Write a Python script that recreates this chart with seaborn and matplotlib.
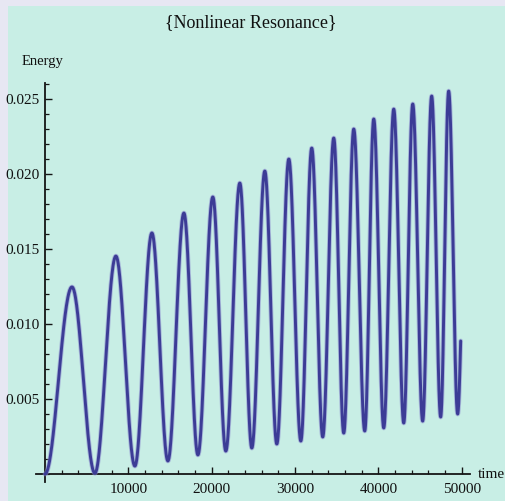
import numpy as np
import pandas as pd
import matplotlib
matplotlib.use("Agg")
import matplotlib.pyplot as plt
import matplotlib.ticker as mticker
import matplotlib.patheffects as pe
from matplotlib.patches import Rectangle
import seaborn as sns

# Turning points of the energy curve (time, energy)
start_time = [0]
start_energy = [0.0]
peak_times = [3240, 8510, 12830, 16670, 20140, 23380, 26380, 29260,
              32010, 34650, 37050, 39450, 41850, 44130, 46400, 48440]
peak_energy = [0.01247, 0.01453, 0.01607, 0.01740, 0.01847, 0.01940, 0.02020, 0.02100,
               0.02173, 0.02240, 0.02300, 0.02367, 0.02433, 0.02467, 0.02520, 0.02553]
trough_times = [5990, 10790, 14750, 18350, 21700, 24820, 27820, 30700,
                33330, 35850, 38370, 40650, 43050, 45320, 47480, 49520]
trough_energy = [0.00005, 0.00053, 0.00087, 0.00127, 0.00153, 0.00173, 0.00200, 0.00220,
                 0.00247, 0.00273, 0.00287, 0.00307, 0.00340, 0.00353, 0.00380, 0.00400]
end_time = [49880]
end_energy = [0.00887]

x_major = [10000, 20000, 30000, 40000, 50000]
x_labels = ["10000", "20000", "30000", "40000", "50000"]
y_major = [0.005, 0.010, 0.015, 0.020, 0.025]
y_labels = ["0.005", "0.010", "0.015", "0.020", "0.025"]

# Alternate the turning points and join them with smooth half-wave arcs
tp_t = list(start_time)
tp_e = list(start_energy)
for pt, pv, tt, tv in zip(peak_times, peak_energy, trough_times, trough_energy):
    tp_t += [pt, tt]
    tp_e += [pv, tv]

ts, es = [], []
for i in range(len(tp_t) - 1):
    s = np.linspace(0, 1, 60)
    ts.append(tp_t[i] + (tp_t[i + 1] - tp_t[i]) * s)
    es.append(tp_e[i] + (tp_e[i + 1] - tp_e[i]) * (1 - np.cos(np.pi * s)) / 2)
# last rising stretch, cut off before the next crest
s = np.linspace(0, 1, 30)
ts.append(tp_t[-1] + (end_time[0] - tp_t[-1]) * s)
es.append(tp_e[-1] + (end_energy[0] - tp_e[-1]) * (1 - np.cos(np.pi / 2 * s)))
df = pd.DataFrame({"time": np.concatenate(ts), "Energy": np.concatenate(es)})

sns.set_theme(style="ticks")
plt.rcParams["font.family"] = ["Liberation Serif", "DejaVu Serif"]

W, H = 506, 501
fig = plt.figure(figsize=(W / 100, H / 100), dpi=100)
fig.patch.set_facecolor("#E7E7F3")
fig.add_artist(Rectangle((8 / W, 0), 1 - 8 / W, (H - 6) / H, transform=fig.transFigure,
                         facecolor="#C8EEE5", edgecolor="none", zorder=0))

left_px, right_px, top_px, bottom_px = 35.8, 470, 83, 481.5
ax = fig.add_axes([left_px / W, (H - bottom_px) / H,
                   (right_px - left_px) / W, (bottom_px - top_px) / H])
ax.patch.set_visible(False)

line_color = "#3C3C96"
sns.lineplot(data=df, x="time", y="Energy", ax=ax, color=line_color, linewidth=2.1,
             estimator=None, sort=False, legend=False, zorder=3,
             path_effects=[pe.Stroke(linewidth=3.4, foreground="#8C8CCF", alpha=0.55),
                           pe.Normal()])

ax.set_xlim(-1100, 51000)
ax.set_ylim(-0.0005, 0.02607)
ax.set_xlabel("")
ax.set_ylabel("")

for side in ("top", "right"):
    ax.spines[side].set_visible(False)
for side in ("left", "bottom"):
    ax.spines[side].set_position(("data", 0))
    ax.spines[side].set_color("#151515")
    ax.spines[side].set_linewidth(1.3)
    ax.spines[side].set_zorder(2)

ax.xaxis.set_major_locator(mticker.FixedLocator(x_major))
ax.xaxis.set_major_formatter(mticker.FixedFormatter(x_labels))
ax.xaxis.set_minor_locator(mticker.MultipleLocator(2000))
ax.yaxis.set_major_locator(mticker.FixedLocator(y_major))
ax.yaxis.set_major_formatter(mticker.FixedFormatter(y_labels))
ax.yaxis.set_minor_locator(mticker.MultipleLocator(0.001))

ax.tick_params(axis="both", which="major", direction="in", length=4.8, width=1.0,
               color="#151515", labelsize=11, labelcolor="#111111")
ax.tick_params(axis="both", which="minor", direction="in", length=2.8, width=0.9,
               color="#151515")
ax.tick_params(axis="x", which="major", pad=6.5)
ax.tick_params(axis="y", which="major", pad=3.5)

fig.text(251 / W, 1 - 23 / H, "{Nonlinear Resonance}", ha="center", va="center",
         fontsize=13, color="#111111")
fig.text(43 / W, 1 - 62 / H, "Energy", ha="center", va="center",
         fontsize=10.5, color="#111111")
fig.text(478 / W, 1 - 474 / H, "time", ha="left", va="center",
         fontsize=11, color="#111111")

fig.savefig("out.png", dpi=100, facecolor=fig.get_facecolor())
